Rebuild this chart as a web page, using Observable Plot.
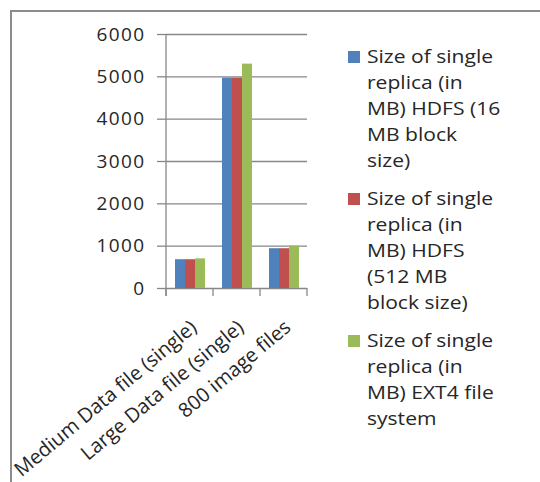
<!DOCTYPE html>
<html>
<head>
<meta charset="utf-8">
<script src="https://cdn.jsdelivr.net/npm/d3@7"></script>
<script src="https://cdn.jsdelivr.net/npm/@observablehq/plot@0.6"></script>
<style>
  html, body { margin: 0; padding: 0; background: #fff; }
  #wrap { position: relative; width: 540px; height: 482px; overflow: hidden; font-family: "Open Sans", sans-serif; color: #262626; }
  #border { position: absolute; left: 10px; top: 10px; width: 560px; height: 500px; border-left: 2px solid #8c8c8c; border-top: 2px solid #8c8c8c; }
  #chart { position: absolute; left: 0; top: 0; }
  #legend { position: absolute; left: 348px; top: 43px; font-size: 18px; line-height: 26px; }
  .item { position: relative; padding-left: 19px; margin-bottom: 12px; }
  .sw { position: absolute; left: 0; top: 8px; width: 12px; height: 12px; }
  .txt { transform: scaleX(1.17); transform-origin: left top; white-space: nowrap; }
  #chart svg g[aria-label="y-axis tick label"] text { letter-spacing: 1.4px; }
</style>
</head>
<body>
<div id="wrap">
  <div id="border"></div>
  <div id="chart"></div>
  <div id="legend"></div>
</div>
<script>
const categories = ["Medium Data file (single)", "Large Data file (single)", "800 image files"];
const seriesNames = [
  "Size of single replica (in MB) HDFS (16 MB block size)",
  "Size of single replica (in MB) HDFS (512 MB block size)",
  "Size of single replica (in MB) EXT4 file system"
];
const seriesLegendLines = [
  ["Size of single", "replica (in", "MB) HDFS (16", "MB block", "size)"],
  ["Size of single", "replica (in", "MB) HDFS", "(512 MB", "block size)"],
  ["Size of single", "replica (in", "MB) EXT4 file", "system"]
];
const hdfs16 = [680, 4970, 940];
const hdfs512 = [680, 4970, 940];
const ext4 = [700, 5300, 1000];
const yTicks = [0, 1000, 2000, 3000, 4000, 5000, 6000];
const colors = ["#4F81BD", "#C0504D", "#9BBB59"];

const seriesValues = [hdfs16, hdfs512, ext4];
const data = [];
categories.forEach((c, i) => {
  seriesNames.forEach((s, j) => data.push({category: c, series: s, value: seriesValues[j][i]}));
});

const gridColor = "#878787";

const chart = Plot.plot({
  width: 540,
  height: 482,
  marginLeft: 165,
  marginRight: 232,
  marginTop: 34,
  marginBottom: 194,
  style: {fontFamily: "Open Sans, sans-serif", fontSize: "19px", color: "#262626", background: "transparent", overflow: "visible"},
  fx: {domain: categories, padding: 0, label: null, axis: null},
  x: {domain: seriesNames, paddingInner: 0, paddingOuter: 0.73, axis: null},
  y: {domain: [0, 6000], label: null, axis: null},
  color: {domain: seriesNames, range: colors},
  marks: [
    Plot.gridY(yTicks, {stroke: gridColor, strokeOpacity: 1, strokeWidth: 1.3}),
    Plot.barY(data, {fx: "category", x: "series", y: "value", fill: "series"}),
    Plot.axisY(yTicks, {tickSize: 9, tickPadding: 12, stroke: gridColor, strokeWidth: 1.3, fill: "#262626", fontSize: 19, tickFormat: d => String(d)}),
    Plot.axisFx({anchor: "bottom", tickRotate: -40, tickSize: 0, tickPadding: 22, dx: 4, dy: 14, fontSize: 20, fill: "#262626", label: null})
  ]
});
document.getElementById("chart").appendChild(chart);

// y-axis line and category boundary ticks, placed through the chart's own scales
const fx = chart.scale("fx");
const y = chart.scale("y");
const svg = d3.select(chart);
const y0 = y.apply(0), yTop = y.apply(6000);
const bounds = categories.map(c => fx.apply(c)).concat([fx.apply(categories[categories.length - 1]) + fx.bandwidth]);
const g = svg.append("g").attr("stroke", gridColor).attr("stroke-width", 1.3);
g.append("line").attr("x1", bounds[0]).attr("x2", bounds[0]).attr("y1", yTop).attr("y2", y0 + 8);
bounds.forEach(b => g.append("line").attr("x1", b).attr("x2", b).attr("y1", y0).attr("y2", y0 + 8));

// legend
const legend = d3.select("#legend");
seriesLegendLines.forEach((lines, i) => {
  const item = legend.append("div").attr("class", "item");
  item.append("div").attr("class", "sw").style("background", colors[i]);
  item.append("div").attr("class", "txt").html(lines.join("<br>"));
});
</script>
</body>
</html>
